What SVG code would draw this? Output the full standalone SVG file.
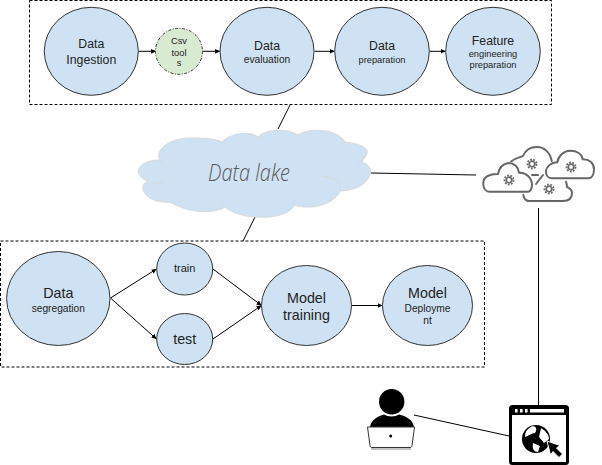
<svg xmlns="http://www.w3.org/2000/svg" xmlns:xlink="http://www.w3.org/1999/xlink" width="602" height="465" viewBox="0 0 602 465">
<style>
.bg{fill:#fff}
.box{fill:none;stroke:#000;stroke-width:1;stroke-dasharray:3 2}
.n{fill:#cfe2f3;stroke:#333;stroke-width:1}
.g{fill:#d9ead3;stroke:#333;stroke-width:1;stroke-dasharray:3 1.5 1 1.5}
.c{fill:none;stroke:#000;stroke-width:1}
.a{marker-end:url(#ah)}
text{font-family:"Liberation Sans",Arial,sans-serif;fill:#222;text-anchor:middle}
.f14{font-size:14.3px}.f12{font-size:12.3px}.f11{font-size:11px}.f10{font-size:10.2px}.f9{font-size:9.3px}
.ic{fill:none;stroke:#666;stroke-width:2;stroke-linecap:round;stroke-linejoin:round}
</style>
<defs>
<marker id="ah" markerUnits="userSpaceOnUse" markerWidth="6" markerHeight="6" refX="5" refY="3" orient="auto"><path d="M0 .6L5 3L0 5.4z" fill="#000"/></marker>
<g id="gear"><circle r="2.8" fill="none" stroke="#666" stroke-width="1.8"/><circle r="4.6" fill="none" stroke="#666" stroke-width="1.7" stroke-dasharray="1.8 1.4"/></g>
</defs>
<rect class="bg" width="602" height="465"/>
<rect class="box" x="29.5" y="0.5" width="522" height="104"/>
<rect class="box" x="0.5" y="241" width="484" height="126"/>
<g id="connectors">
<path class="c" d="M278 129L290 105"/>
<path class="c" d="M255 217L243 241"/>
<path class="c" d="M371 173L476 175"/>
<path class="c" d="M538.5 208V406"/>
<path class="c" d="M414 415L509 436"/>
<path class="c a" d="M138.5 51.3H156"/>
<path class="c a" d="M202.5 51.3H220"/>
<path class="c a" d="M314.5 51.3H334.7"/>
<path class="c a" d="M429.5 51.3H445.7"/>
<path class="c a" d="M110.5 298L156.5 269"/>
<path class="c a" d="M110.5 298L156.5 339"/>
<path class="c a" d="M213 269L261.5 305.5"/>
<path class="c a" d="M213 339L261.5 305.5"/>
<path class="c a" d="M351.5 305.5H382.5"/>
</g>
<g id="data-ingestion"><ellipse class="n" cx="91.3" cy="51.3" rx="47" ry="44"/><text class="f12" x="91.3" y="48.3">Data</text><text class="f12" x="91.3" y="64">Ingestion</text></g>
<g id="csv-tools"><ellipse class="g" cx="179" cy="51.3" rx="23.5" ry="23"/><text class="f9" x="179" y="44.3">Csv</text><text class="f9" x="179" y="55.7">tool</text><text class="f9" x="179" y="66">s</text></g>
<g id="data-evaluation"><ellipse class="n" cx="267" cy="51.3" rx="47" ry="44"/><text class="f12" x="267" y="50">Data</text><text class="f10" x="267" y="62.7">evaluation</text></g>
<g id="data-preparation"><ellipse class="n" cx="382" cy="51.3" rx="47.3" ry="44"/><text class="f12" x="382" y="50">Data</text><text class="f9" x="382" y="63">preparation</text></g>
<g id="feature-engineering"><ellipse class="n" cx="493" cy="51.3" rx="47.3" ry="44"/><text class="f12" x="493" y="45">Feature</text><text class="f9" x="493" y="57.3">engineering</text><text class="f9" x="493" y="68">preparation</text></g>
<g id="data-lake">
<path fill="#cfe2f3" stroke="#d9d9d9" d="M138.5 171C139 164 148 160 160 160C154 150 170 137 193 138C206 138 216 139 222 142C228 134 250 130 258 137C264 129 288 128 298 135C310 127 338 129 345 142C358 143 369 148 367 153C366 157 364 158 362 162C370 165 372 170 370 175C366 186 352 191 340 191C336 201 320 208 306 207C300 207 297 206 295 205C288 216 270 218 258 217C244 217 232 213 225 207C216 213 192 215 170 202C160 203 148 200 144 192C141 187 144 183 148 181C143 179 138 176 138.5 171Z"/>
<path fill="none" stroke="#d9d9d9" d="M148 181C155 183 160 183 163 183M160 160L162 163M222 142L218 141M258 137L259 139M298 135L296 138M345 142L343 145M367 153L358 166M340 191C342 183 336 178 323 176M170 202L176 204M225 207L222 205M295 205L295 200"/>
<text x="249" y="180.5" font-size="24" style="font-family:'Open Sans','Liberation Sans',sans-serif;font-style:italic;font-weight:300;fill:#595959" textLength="82" lengthAdjust="spacingAndGlyphs">Data lake</text>
</g>
<g id="data-segregation"><ellipse class="n" cx="58.3" cy="298.5" rx="51.7" ry="47"/><text class="f14" x="58.3" y="298.3">Data</text><text class="f10" x="58.3" y="311.7">segregation</text></g>
<g id="train"><ellipse class="n" cx="184.7" cy="269" rx="28" ry="26"/><text class="f11" x="184.7" y="272.3">train</text></g>
<g id="test"><ellipse class="n" cx="184.7" cy="339" rx="28" ry="25.5"/><text class="f14" x="184.7" y="343.7">test</text></g>
<g id="model-training"><ellipse class="n" cx="306.5" cy="305.5" rx="45" ry="40"/><text class="f14" x="306.5" y="303.3">Model</text><text class="f14" x="306.5" y="320">training</text></g>
<g id="model-deployment"><ellipse class="n" cx="427.5" cy="305.5" rx="45" ry="40"/><text class="f14" x="427.5" y="298.3">Model</text><text class="f10" x="427.5" y="312.3">Deployme</text><text class="f10" x="427.5" y="324">nt</text></g>
<g id="cloud-services">
<path class="ic" d="M490 191.7C482 191.7 480 178 490 175C493 174 496 174 498 174C499 168 503 164 508 163C514 163 518 166 519 172.7C526 172 532 178 532 185C532 189 530 191.7 528 191.7Z"/>
<path class="ic" d="M551.7 178.3C548 178.3 546 175 546 171.7C546 167 551 162 557.3 162.3C558 156 564 150.7 570 150.7C577 150.7 582 154 582.7 159.3C589 159 594 163 594 169C594 174 592 178.3 588.3 178.3Z"/>
<path class="ic" d="M511 161.5C516 158 520 157 523 156C525 151 530 147 537 147C544 147 550 152 551.7 161M532 175H538M536 184L543 175"/>
<path class="ic" d="M523.3 195C524 199 526 201 529 201H563C569 201 572 198 572 193C572 189 569 188 567 187C567 185 566.5 183 566 181.7"/>
<use xlink:href="#gear" href="#gear" x="509" y="180"/>
<use xlink:href="#gear" href="#gear" x="532" y="164"/>
<use xlink:href="#gear" href="#gear" x="571" y="167"/>
<use xlink:href="#gear" href="#gear" x="549" y="189"/>
</g>
<g id="user">
<circle cx="391.7" cy="401.7" r="12.7" fill="#000"/>
<path fill="#000" d="M370 427C371 420 378 416 384 414.5C388 417 395 417 399 414.5C406 416 413 420 414 427Z"/>
<path fill="#fff" stroke="#333" d="M367.5 427H414.5L412 445.5C412 447 411 447.5 410 447.5H372C371 447.5 370 447 370 445.5Z"/>
<path stroke="#888" stroke-width="1.2" d="M371 449H411"/>
<circle cx="390.7" cy="436" r="1.5" fill="#000"/>
</g>
<g id="browser">
<rect x="510.5" y="406.5" width="57" height="57" rx="2" fill="#fff" stroke="#000" stroke-width="3"/>
<rect x="510" y="406" width="58" height="9" fill="#000"/>
<rect x="530" y="409" width="34" height="3.5" fill="#fff"/>
<rect x="515" y="409" width="2.6" height="3.5" fill="#fff"/>
<rect x="520" y="409" width="2.6" height="3.5" fill="#fff"/>
<rect x="525" y="409" width="2.6" height="3.5" fill="#fff"/>
<circle cx="536" cy="439" r="14" fill="#000"/>
<path fill="#fff" d="M533 426C537 427 537 430 535 433C532 433 528 436 525 437C525 431 528 428 533 426ZM541 428C546 431 549 435 549 439L544 443L539 437ZM533 443L540 446L538 452C534 452 532 449 533 443Z"/>
<path fill="#000" stroke="#fff" d="M547 441L560 445.5L556.5 448L562.5 454L559 457.5L553 451.5L550.5 455Z"/>
</g>
</svg>
